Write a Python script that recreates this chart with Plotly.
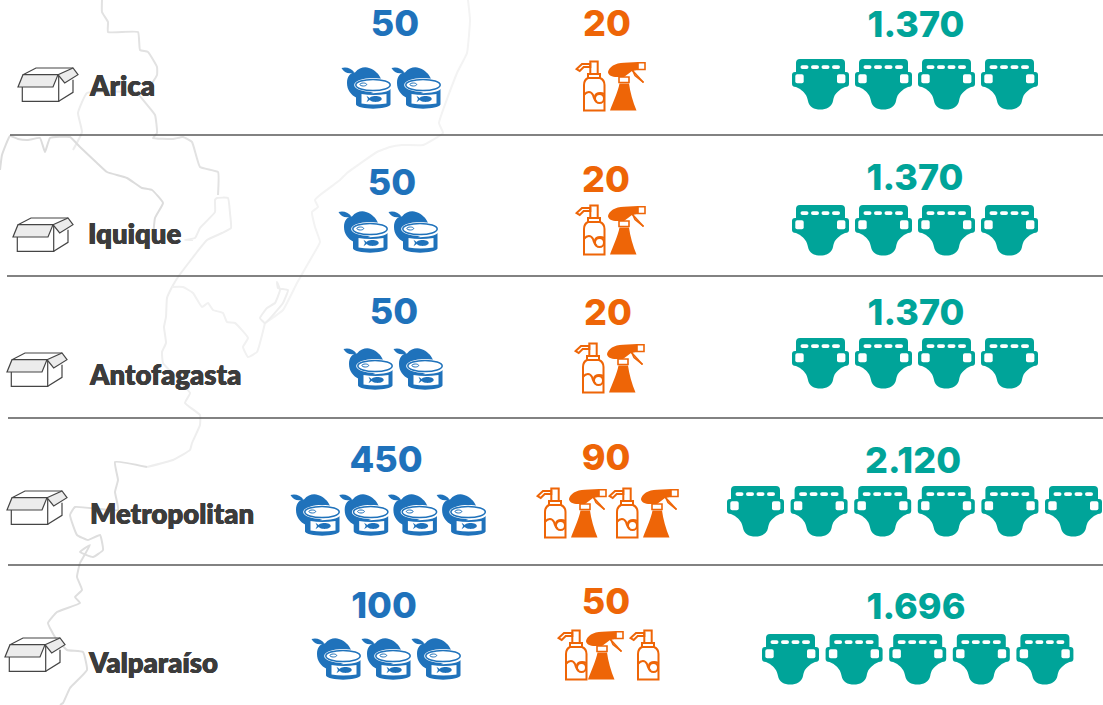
import re
import plotly.graph_objects as go

# ---------- data ----------
regions = ["Arica", "Iquique", "Antofagasta", "Metropolitan", "Valparaíso"]
tuna_labels = ["50", "50", "50", "450", "100"]
spray_labels = ["20", "20", "20", "90", "50"]
diaper_labels = ["1.370", "1.370", "1.370", "2.120", "1.696"]
tuna_icons = [2, 2, 2, 4, 3]
spray_icons = [2, 2, 2, 4, 3]
diaper_icons = [4, 4, 4, 6, 5]

# ---------- layout (pixels of the 1103x705 page) ----------
W, H = 1103, 705
BLUE, ORANGE, TEAL, INK = "#1f72bb", "#ee6507", "#00a499", "#3c3c3c"
box_xy = [(18, 68), (13, 218), (7, 353), (7, 491), (5, 638)]
name_xy = [(90, 85), (88, 233), (90, 374), (90, 513), (89, 662)]
tuna_num_xy = [(395, 24), (392, 183), (394, 312), (386, 460), (384, 606)]
tuna_start = [(341, 66), (338, 210), (343, 347), (290, 493), (311, 637)]
tuna_step = [50, 50, 50, 48.7, 50]
spray_num_xy = [(607, 24), (606, 180), (608, 313), (606, 458), (606, 602)]
spray_pos = [[(576, 61), (608, 62)], [(576, 205), (608, 206)], [(575, 343), (607, 344)],
             [(537, 488), (569, 489), (609, 488), (641, 489)],
             [(558, 630), (586, 631), (630, 630)]]
diaper_num_xy = [(916, 25), (915, 178), (916, 313), (913, 461), (916, 607)]
diaper_start = [(792, 59), (792, 205), (792, 338), (727, 486), (762, 634)]
diaper_step = [63, 63, 63, 63.6, 63.6]
rules = [(10, 135), (7, 276), (8, 418), (8, 565)]

# faint background map outlines
map_lines = [
    ("#e2e2e2", [(102, 0), (102, 12), (108, 22), (108, 32), (138, 32), (140, 50), (148, 52), (157, 67), (157, 75), (147, 90),
                 (138, 93), (155, 115), (157, 133), (153, 138), (173, 139), (183, 137), (192, 142), (200, 167), (218, 172), (218, 195)]),
    ("#ececec", [(147, 92), (87, 93), (78, 113), (82, 132), (73, 150)]),
    ("#dcdcdc", [(0, 170), (2, 155), (10, 136), (18, 139), (28, 140), (40, 138), (45, 152), (50, 138), (70, 137), (80, 147), (97, 163),
                 (107, 172), (127, 178), (142, 188), (152, 190), (163, 203), (155, 218), (153, 238)]),
    ("#eeeeee", [(193, 240), (185, 240), (195, 238), (200, 228), (215, 212), (215, 200), (217, 198), (228, 198), (230, 213), (231, 228), (222, 233),
                 (207, 240), (197, 252), (187, 265), (178, 277), (172, 287), (167, 298), (166, 317), (164, 327), (166, 343), (162, 352), (163, 363),
                 (177, 378), (190, 393), (185, 403), (200, 415), (200, 425), (192, 443), (190, 450), (173, 460), (147, 467)]),
    ("#f1f1f1", [(172, 287), (183, 287), (193, 293), (202, 307), (208, 303), (213, 310), (223, 313), (227, 322), (235, 323), (248, 338),
                 (243, 347), (248, 357), (257, 352), (265, 323)]),
    ("#f3f3f3", [(265, 323), (283, 310), (297, 283), (313, 255), (320, 242), (315, 227), (312, 212), (318, 207), (315, 200), (320, 195), (340, 180),
                 (347, 173), (377, 152), (390, 147), (402, 145), (423, 145), (443, 133), (439, 123), (457, 73), (467, 53), (470, 20), (468, 0)]),
    ("#eeeeee", [(277, 282), (278, 288), (288, 290), (283, 303), (265, 323), (260, 318), (267, 308), (275, 303), (280, 290), (277, 282)]),
    ("#dedede", [(147, 467), (115, 462), (118, 480), (115, 492), (118, 510), (75, 507), (70, 515), (77, 535), (88, 540), (100, 535), (103, 550),
                 (93, 557), (80, 552), (90, 545), (80, 563), (77, 577), (82, 590), (75, 597), (80, 603), (57, 612), (48, 623), (55, 637),
                 (67, 650), (83, 652), (87, 670), (70, 688), (63, 703), (60, 705)]),
]

fig = go.Figure()
shapes = []


def place(d, ox, oy, s=1.0):
    return re.sub(r"(-?[\d.]+),(-?[\d.]+)",
                  lambda m: f"{ox + float(m[1]) * s:.2f},{oy + float(m[2]) * s:.2f}", d)


def path(d, ox, oy, fill=None, line=None, lw=0, s=1.0):
    shapes.append(dict(type="path", xref="x", yref="y", path=place(d, ox, oy, s),
                       fillcolor=fill or "rgba(0,0,0,0)",
                       line=dict(color=line or "rgba(0,0,0,0)", width=lw)))


def ell(cx, cy, rx, ry):
    k = 0.5523
    return (f"M{cx-rx},{cy} C{cx-rx},{cy-k*ry} {cx-k*rx},{cy-ry} {cx},{cy-ry} "
            f"C{cx+k*rx},{cy-ry} {cx+rx},{cy-k*ry} {cx+rx},{cy} "
            f"C{cx+rx},{cy+k*ry} {cx+k*rx},{cy+ry} {cx},{cy+ry} "
            f"C{cx-k*rx},{cy+ry} {cx-rx},{cy+k*ry} {cx-rx},{cy} Z")


def pill(x0, y0, x1, y1, r):
    return (f"M{x0+r},{y0} L{x1-r},{y0} Q{x1},{y0} {x1},{y0+r} L{x1},{y1-r} Q{x1},{y1} {x1-r},{y1} "
            f"L{x0+r},{y1} Q{x0},{y1} {x0},{y1-r} L{x0},{y0+r} Q{x0},{y0} {x0+r},{y0} Z")


def box_icon(ox, oy):
    c = "#454545"
    path("M4.3,19 L4.3,33.3 L40.7,33.3 L40.7,6.7", ox, oy, line=c, lw=1.2)
    path("M40.7,33.3 L55,24.3 L55,11.7", ox, oy, line=c, lw=1.2)
    path("M5,6.7 L18,0 L55,0", ox, oy, line=c, lw=1.2)
    path("M5,6.7 L40,6.7 L35,19 L0,19 Z", ox, oy, fill="#ececec", line=c, lw=1.2)
    path("M40,6.7 L55,0 L60,6.7 L46.7,15 Z", ox, oy, fill="#ececec", line=c, lw=1.2)


def tuna_icon(ox, oy):
    path("M0.5,2 C5,0.5 10,2 13.5,6.5 C8,8.5 3,7 0.5,2 Z", ox, oy, fill=BLUE)
    path("M6,17 C6,11 9,6.5 14,6.5 C18,1.5 24,0.5 28,2 C34,4 38,8 40,13 L38,24 L16,32 C10,29 6,24 6,17 Z", ox, oy, fill=BLUE)
    path(ell(32, 19, 18.8, 7), ox, oy, fill="white")
    path(ell(32, 19, 17.2, 5.6), ox, oy, fill="white", line=BLUE, lw=1.5)
    path(ell(22.3, 18.5, 3.4, 1.5), ox, oy, fill="white", line=BLUE, lw=1)
    path("M15,23 L15,38.5 C17,44 47,44 49.5,38.5 L49.5,23 C46,28.5 18,28.5 15,23 Z", ox, oy, fill=BLUE)
    path("M20.5,28 Q32,30 45.5,28 L45.5,37.5 Q32,39.5 20.5,37.5 Z", ox, oy, fill="white")
    path(ell(34.5, 33, 6.2, 2.9), ox, oy, fill=BLUE)
    path("M25.5,29.8 L30,33 L25.5,36.3 L27,33 Z", ox, oy, fill=BLUE)


def bottle_icon(ox, oy):
    o = dict(line=ORANGE, lw=2)
    path("M0.6,8 L6,3 L14.3,3 L14.3,6 L7.7,6 L3.7,10 Z", ox, oy, **o)
    path("M14.3,0.5 L21.7,0.5 L21.7,13 L14.3,13 Z", ox, oy, **o)
    path("M12,13 L24,13 L24,17 L12,17 Z", ox, oy, **o)
    path("M12,17 L24,17 Q28.5,19 28.5,24 L28.5,49.5 L8,49.5 L8,24 Q8,19 12,17 Z", ox, oy, **o)
    path("M8,34 C11,30 15,30 17,34 C18,38 19,40 21,41", ox, oy, **o)
    path("M19,36 C19,32 24,31 28.5,33", ox, oy, **o)
    path(ell(23.5, 37.5, 4.5, 4.5), ox, oy, **o)


def trigger_icon(ox, oy):
    path("M0,10 C1,5 7,1 16,0.8 L30,0 L30,8 L24,9 L16,15 L9,15 C4,15 0,13 0,10 Z", ox, oy, fill=ORANGE)
    path("M30,0.8 L37,0.8 L37,7.5 L30,7.5 Z", ox, oy, fill="white", line=ORANGE, lw=1.6)
    path("M24,8 L35.5,20.5", ox, oy, line=ORANGE, lw=1.6)
    path("M24.5,8 L27,13.5 L35.5,20.5", ox, oy, line=ORANGE, lw=1.6)
    path("M11,15 L21,15 L21,20.5 L11,20.5 Z", ox, oy, fill="white", line=ORANGE, lw=1.6)
    path("M11.5,21.5 L21,21.5 C22,30 25,40 28.5,48.5 L2,48.5 C5,40 10,30 11.5,21.5 Z", ox, oy, fill=ORANGE)


def diaper_icon(ox, oy):
    path("M8,0 L49,0 Q53,0 53,4 L53,13 L54,13 Q57,13 57,16 L57,25 Q57,28 53,28 L49,30 "
         "C44,34 42,36 41,42 C40,48 34,50.5 28.5,50.5 C22,50.5 17,48 16,42 C15,36 12,33 8,30 "
         "L4,28 Q0,28 0,25 L0,16 Q0,13 3,13 L4,13 L4,4 Q4,0 8,0 Z", ox, oy, fill=TEAL)
    for a, b in [(8.5, 16.5), (19, 27), (29.5, 37.5), (40, 48)]:
        path(pill(a, 6.2, b, 10, 1.9), ox, oy, fill="white")
    path(pill(3.3, 15.3, 11.7, 24.3, 1.8), ox, oy, fill="white")
    path(pill(45, 15.3, 53.4, 24.3, 1.8), ox, oy, fill="white")


# map
for col, pts in map_lines:
    fig.add_trace(go.Scatter(x=[p[0] for p in pts], y=[p[1] for p in pts], mode="lines",
                             line=dict(color=col, width=2, shape="spline", smoothing=0.35),
                             hoverinfo="skip", showlegend=False))
# rules
for rx, ry in rules:
    fig.add_trace(go.Scatter(x=[rx, W], y=[ry, ry], mode="lines", line=dict(color="#595959", width=1.5),
                             hoverinfo="skip", showlegend=False))

# icons
for i in range(len(regions)):
    box_icon(*box_xy[i])
    for k in range(tuna_icons[i]):
        tuna_icon(tuna_start[i][0] + k * tuna_step[i], tuna_start[i][1])
    for k in range(spray_icons[i]):
        (bottle_icon if k % 2 == 0 else trigger_icon)(*spray_pos[i][k])
    for k in range(diaper_icons[i]):
        diaper_icon(diaper_start[i][0] + k * diaper_step[i], diaper_start[i][1])


def text_trace(labels, xy, color, size, pos, family, dy, shadow="none"):
    fig.add_trace(go.Scatter(x=[p[0] for p in xy], y=[p[1] + dy for p in xy], text=labels, mode="text",
                             textposition=pos, hoverinfo="skip", showlegend=False, cliponaxis=False,
                             textfont=dict(family=family, size=size, color=color, weight=800, shadow=shadow)))


text_trace(regions, name_xy, INK, 27.5, "middle right", "Lato", 4,
           f"0.3px 0 0 {INK}, -0.3px 0 0 {INK}")
text_trace(tuna_labels, tuna_num_xy, BLUE, 36, "middle center", "Inter", 3)
text_trace(spray_labels, spray_num_xy, ORANGE, 36, "middle center", "Inter", 3)
text_trace(diaper_labels, diaper_num_xy, TEAL, 36, "middle center", "Inter", 3)

fig.update_layout(
    width=W, height=H, margin=dict(l=0, r=0, t=0, b=0), showlegend=False,
    paper_bgcolor="white", plot_bgcolor="white", shapes=shapes,
    xaxis=dict(range=[0, W], visible=False, fixedrange=True),
    yaxis=dict(range=[H, 0], visible=False, fixedrange=True),
)
fig.write_html("out.html", config=dict(displayModeBar=False),
               post_script="document.body.style.margin='0';document.documentElement.style.overflow='hidden';")
